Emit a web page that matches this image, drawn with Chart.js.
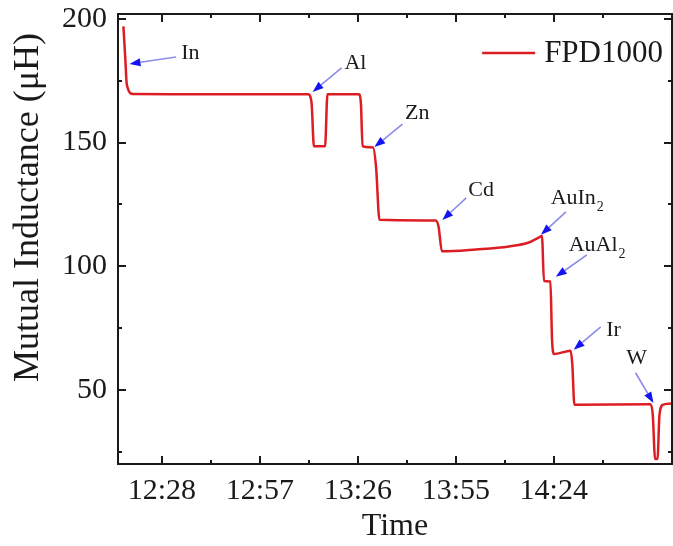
<!DOCTYPE html>
<html>
<head>
<meta charset="utf-8">
<script src="https://cdn.jsdelivr.net/npm/chart.js@4.4.0/dist/chart.umd.min.js"></script>
<style>
  html, body { margin: 0; padding: 0; background: #fff; overflow: hidden; }
  #wrap { width: 673px; height: 546px; position: relative; }
</style>
</head>
<body>
<div id="wrap"><canvas id="chart"></canvas></div>
<script>
// time in minutes after midnight, inductance in µH
const times = [736.6, 737.2, 737.6, 739.5, 791.3, 792.3, 793.0, 796.3, 797.0, 806.3, 806.9, 807.4,
  810.5, 811.4, 812.4, 829.0, 829.9, 830.9, 841.0, 850.7, 856.6, 859.8, 860.5, 861.1, 863.0,
  863.5, 864.1, 869.0, 869.5, 870.1, 892.6, 893.3, 894.0, 894.7, 895.3, 896.4, 899.5];
const inductance = [197, 183, 173.5, 169.6, 169.5, 166, 148.5, 148.5, 169.5, 169.5, 166, 148.5,
  148, 140, 118.8, 118.5, 116, 106, 106.8, 108, 109.6, 111.8, 112.2, 94, 93.8,
  70, 64.5, 65.8, 60, 44, 44.2, 40, 22, 22, 40, 44, 44.5];

const xMajor = [748, 777, 806, 835, 864];
const xMinor = [762.5, 791.5, 820.5, 849.5, 878.5];
const yMajor = [50, 100, 150, 200];
const yMinor = [25, 75, 125, 175];

// sample names, with subscript part
const names = ["In", "Al", "Zn", "Cd", "AuIn", "AuAl", "Ir", "W"];
const subs = ["", "", "", "", "2", "2", "", ""];
const nameAt = [[756.4, 186.3], [805.3, 182.2], [823.6, 162.0], [842.5, 130.9],
  [870.8, 127.6], [876.7, 108.6], [881.7, 74.2], [888.5, 62.9]];
const arrowFrom = [[752.2, 184.6], [801.2, 180.2], [819.2, 157.5], [838.1, 127.6],
  [867.6, 122.0], [873.8, 104.6], [877.9, 75.5], [888.2, 56.9]];
const arrowTo = [[738.4, 181.8], [792.6, 170.5], [810.9, 148.2], [831.0, 118.7],
  [860.2, 112.7], [864.6, 95.7], [869.9, 66.2], [893.5, 44.7]];

const yTitle = 'Mutual Inductance (μH)';

const SERIF = "'Liberation Serif', 'Times New Roman', serif";
const INK = '#1a1a1a';
const RED = '#dc1e24';

function hhmm(m) {
  const h = Math.floor(m / 60), mm = Math.round(m - h * 60);
  return h + ':' + String(mm).padStart(2, '0');
}

// frame with inward ticks on all four sides, and the y title
const frame = {
  id: 'frame',
  afterDatasetsDraw(chart) {
    const { ctx, chartArea: a, scales: { x, y } } = chart;
    ctx.save();
    ctx.strokeStyle = INK;
    ctx.lineWidth = 2;
    ctx.beginPath();
    const xt = (vals, len) => vals.forEach(v => {
      const px = Math.round(x.getPixelForValue(v));
      ctx.moveTo(px, a.bottom); ctx.lineTo(px, a.bottom - len);
      ctx.moveTo(px, a.top); ctx.lineTo(px, a.top + len);
    });
    const yt = (vals, len) => vals.forEach(v => {
      const py = Math.round(y.getPixelForValue(v));
      ctx.moveTo(a.left, py); ctx.lineTo(a.left + len, py);
      ctx.moveTo(a.right, py); ctx.lineTo(a.right - len, py);
    });
    xt(xMajor, 8); xt(xMinor, 4);
    yt(yMajor, 8); yt(yMinor, 4);
    ctx.stroke();
    ctx.strokeRect(a.left, a.top, a.right - a.left, a.bottom - a.top);

    // y title, set a little above the middle as in the source figure
    ctx.translate(29, a.top + (a.bottom - a.top) * 0.43);
    ctx.rotate(-Math.PI / 2);
    ctx.font = '36px ' + SERIF;
    ctx.fillStyle = INK;
    ctx.textAlign = 'center';
    ctx.textBaseline = 'middle';
    ctx.fillText(yTitle, 0, 0);
    ctx.restore();
  }
};

// sample labels with arrows, plus the legend
const notes = {
  id: 'notes',
  afterDraw(chart) {
    const { ctx, chartArea: a, scales: { x, y } } = chart;
    ctx.save();
    names.forEach((n, i) => {
      const x0 = x.getPixelForValue(arrowFrom[i][0]), y0 = y.getPixelForValue(arrowFrom[i][1]);
      const x1 = x.getPixelForValue(arrowTo[i][0]), y1 = y.getPixelForValue(arrowTo[i][1]);
      const ang = Math.atan2(y1 - y0, x1 - x0);
      const hl = 11, hw = 4;
      const bx = x1 - hl * Math.cos(ang), by = y1 - hl * Math.sin(ang);
      ctx.strokeStyle = '#8c8ce6';
      ctx.lineWidth = 1.6;
      ctx.beginPath(); ctx.moveTo(x0, y0); ctx.lineTo(bx, by); ctx.stroke();
      ctx.fillStyle = '#1414f0';
      ctx.beginPath();
      ctx.moveTo(x1, y1);
      ctx.lineTo(bx + hw * Math.sin(ang), by - hw * Math.cos(ang));
      ctx.lineTo(bx - hw * Math.sin(ang), by + hw * Math.cos(ang));
      ctx.closePath(); ctx.fill();

      // text
      ctx.fillStyle = INK;
      ctx.font = '22px ' + SERIF;
      ctx.textBaseline = 'middle';
      const w = ctx.measureText(n).width;
      ctx.font = '14px ' + SERIF;
      const ws = subs[i] ? ctx.measureText(subs[i]).width : 0;
      const cx = x.getPixelForValue(nameAt[i][0]), cy = y.getPixelForValue(nameAt[i][1]);
      const left = cx - (w + ws) / 2;
      ctx.font = '22px ' + SERIF;
      ctx.textAlign = 'left';
      ctx.fillText(n, left, cy);
      if (subs[i]) {
        ctx.font = '14px ' + SERIF;
        ctx.fillText(subs[i], left + w + 1, cy + 9);
      }
    });

    // legend
    const ds = chart.data.datasets[0];
    ctx.font = '31px ' + SERIF;
    ctx.textAlign = 'right';
    ctx.textBaseline = 'middle';
    const ly = a.top + 40;
    const tx = a.right - 9;
    const tw = ctx.measureText(ds.label).width;
    ctx.fillStyle = INK;
    ctx.fillText(ds.label, tx, ly);
    ctx.strokeStyle = ds.borderColor;
    ctx.lineWidth = 2.5;
    ctx.beginPath();
    ctx.moveTo(tx - tw - 9, ly - 1);
    ctx.lineTo(tx - tw - 62, ly - 1);
    ctx.stroke();
    ctx.restore();
  }
};

new Chart(document.getElementById('chart'), {
  type: 'line',
  data: {
    datasets: [{
      label: 'FPD1000',
      data: times.map((t, i) => ({ x: t, y: inductance[i] })),
      borderColor: RED,
      borderWidth: 2.5,
      pointRadius: 0,
      cubicInterpolationMode: 'monotone',
      fill: false
    }]
  },
  options: {
    responsive: true,
    maintainAspectRatio: false,
    animation: false,
    layout: { padding: { top: 14, right: 1, left: 0, bottom: 0 } },
    plugins: { legend: { display: false }, tooltip: { enabled: false } },
    scales: {
      x: {
        type: 'linear',
        min: 735,
        max: 899,
        afterFit(s) { s.height = 82; s.paddingLeft = 0; s.paddingRight = 0; },
        afterBuildTicks(s) { s.ticks = xMajor.map(v => ({ value: v })); },
        grid: { display: false, drawTicks: false, tickLength: 0 },
        border: { display: false },
        ticks: {
          padding: 9,
          color: INK,
          font: { family: SERIF, size: 30 },
          maxRotation: 0,
          autoSkip: false,
          callback: v => hhmm(v)
        },
        title: {
          display: true,
          text: 'Time',
          color: INK,
          font: { family: SERIF, size: 32 },
          padding: { top: 0, bottom: 0 }
        }
      },
      y: {
        min: 20,
        max: 202,
        afterFit(s) { s.width = 118; s.paddingTop = 0; s.paddingBottom = 0; },
        afterBuildTicks(s) { s.ticks = yMajor.map(v => ({ value: v })); },
        grid: { display: false, drawTicks: false, tickLength: 0 },
        border: { display: false },
        ticks: {
          padding: 11,
          color: INK,
          font: { family: SERIF, size: 30 }
        },
        title: { display: false }
      }
    }
  },
  plugins: [frame, notes]
});
</script>
</body>
</html>
